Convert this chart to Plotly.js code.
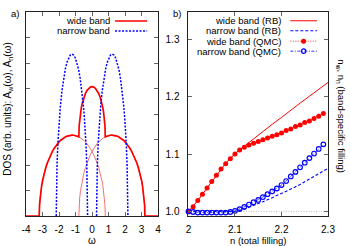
<!DOCTYPE html>
<html>
<head>
<meta charset="utf-8">
<script src="https://cdn.plot.ly/plotly-3.0.1.min.js"></script>
<style>html,body{margin:0;padding:0;background:#fff;}#chart{width:350px;height:246px;}</style>
</head>
<body>
<div id="chart"></div>
<script>
// ---------- Panel a: DOS ----------
const omegaWide = [-4, -3.2, -3.18, -3.15, -3.1, -3.05, -3.0, -2.9, -2.8, -2.7, -2.6, -2.5, -2.4, -2.3, -2.2, -2.1, -2.0, -1.9, -1.8, -1.7, -1.6, -1.5, -1.4, -1.3, -1.2, -1.1, -1.0, -0.9, -0.8, -0.78, -0.75, -0.7, -0.65, -0.6, -0.5, -0.4, -0.3, -0.2, -0.1, 0, 0.1, 0.2, 0.3, 0.4, 0.5, 0.6, 0.65, 0.7, 0.75, 0.78, 0.8, 0.9, 1.0, 1.1, 1.2, 1.3, 1.4, 1.5, 1.6, 1.7, 1.8, 1.9, 2.0, 2.1, 2.2, 2.3, 2.4, 2.5, 2.6, 2.7, 2.8, 2.9, 3.0, 3.05, 3.1, 3.15, 3.18, 3.2, 4];
const dosWide = [0, 0, 0.447, 0.704, 0.990, 1.205, 1.382, 1.670, 1.902, 2.097, 2.264, 2.409, 2.536, 2.647, 2.745, 2.831, 2.905, 2.970, 3.024, 3.069, 3.106, 3.134, 3.154, 3.166, 3.170, 3.166, 3.154, 3.134, 3.106, 3.546, 3.793, 4.059, 4.253, 4.406, 4.640, 4.807, 4.928, 5.009, 5.056, 5.072, 5.056, 5.009, 4.928, 4.807, 4.640, 4.406, 4.253, 4.059, 3.793, 3.546, 3.106, 3.134, 3.154, 3.166, 3.170, 3.166, 3.154, 3.134, 3.106, 3.069, 3.024, 2.970, 2.905, 2.831, 2.745, 2.647, 2.536, 2.409, 2.264, 2.097, 1.902, 1.670, 1.382, 1.205, 0.990, 0.704, 0.447, 0, 0];

const omegaThinL = [-3.2, -3.18, -3.15, -3.1, -3.05, -3.0, -2.9, -2.8, -2.7, -2.6, -2.5, -2.4, -2.3, -2.2, -2.1, -2.0, -1.9, -1.8, -1.7, -1.6, -1.5, -1.4, -1.3, -1.2, -1.1, -1.0, -0.9, -0.8, -0.7, -0.6, -0.5, -0.4, -0.3, -0.2, -0.1, 0, 0.1, 0.2, 0.3, 0.4, 0.5, 0.6, 0.65, 0.7, 0.75, 0.78, 0.8];
const dosThinL = [0, 0.447, 0.704, 0.990, 1.205, 1.382, 1.670, 1.902, 2.097, 2.264, 2.409, 2.536, 2.647, 2.745, 2.831, 2.905, 2.970, 3.024, 3.069, 3.106, 3.134, 3.154, 3.166, 3.170, 3.166, 3.154, 3.134, 3.106, 3.069, 3.024, 2.970, 2.905, 2.831, 2.745, 2.647, 2.536, 2.409, 2.264, 2.097, 1.902, 1.670, 1.382, 1.205, 0.990, 0.704, 0.447, 0];
const omegaThinR = [-0.8, -0.78, -0.75, -0.7, -0.65, -0.6, -0.5, -0.4, -0.3, -0.2, -0.1, 0, 0.1, 0.2, 0.3, 0.4, 0.5, 0.6, 0.7, 0.8, 0.9, 1.0, 1.1, 1.2, 1.3, 1.4, 1.5, 1.6, 1.7, 1.8, 1.9, 2.0, 2.1, 2.2, 2.3, 2.4, 2.5, 2.6, 2.7, 2.8, 2.9, 3.0, 3.05, 3.1, 3.15, 3.18, 3.2];
const dosThinR = [0, 0.447, 0.704, 0.990, 1.205, 1.382, 1.670, 1.902, 2.097, 2.264, 2.409, 2.536, 2.647, 2.745, 2.831, 2.905, 2.970, 3.024, 3.069, 3.106, 3.134, 3.154, 3.166, 3.170, 3.166, 3.154, 3.134, 3.106, 3.069, 3.024, 2.970, 2.905, 2.831, 2.745, 2.647, 2.536, 2.409, 2.264, 2.097, 1.902, 1.670, 1.382, 1.205, 0.990, 0.704, 0.447, 0];

const omegaNarrow = [-2.17, -2.15, -2.12, -2.07, -2.02, -1.97, -1.92, -1.82, -1.72, -1.62, -1.52, -1.42, -1.32, -1.22, -1.12, -1.02, -0.92, -0.82, -0.72, -0.62, -0.52, -0.47, -0.42, -0.37, -0.32, -0.29, -0.27, null, 0.27, 0.29, 0.32, 0.37, 0.42, 0.47, 0.52, 0.62, 0.72, 0.82, 0.92, 1.02, 1.12, 1.22, 1.32, 1.42, 1.52, 1.62, 1.72, 1.82, 1.92, 1.97, 2.02, 2.07, 2.12, 2.15, 2.17];
const dosNarrow = [0, 1.296, 2.033, 2.836, 3.425, 3.898, 4.293, 4.923, 5.399, 5.760, 6.025, 6.208, 6.315, 6.350, 6.315, 6.208, 6.025, 5.760, 5.399, 4.923, 4.293, 3.898, 3.425, 2.836, 2.033, 1.296, 0, null, 0, 1.296, 2.033, 2.836, 3.425, 3.898, 4.293, 4.923, 5.399, 5.760, 6.025, 6.208, 6.315, 6.350, 6.315, 6.208, 6.025, 5.760, 5.399, 4.923, 4.293, 3.898, 3.425, 2.836, 2.033, 1.296, 0];

const omegaTickVals = [-4, -3, -2, -1, 0, 1, 2, 3, 4];
const omegaTickText = ['-4', '-3', '-2', '-1', '0', '1', '2', '3', '4'];
const dosTickVals = [0, 1, 2, 3, 4, 5, 6, 7, 8];

// ---------- Panel b: band-specific filling ----------
const nRB = [2.00, 2.02, 2.04, 2.06, 2.08, 2.10, 2.12, 2.14, 2.16, 2.18, 2.20, 2.22, 2.24, 2.26, 2.28, 2.30];
const wideRB = [1.000, 1.019, 1.041, 1.063, 1.084, 1.101, 1.114, 1.127, 1.139, 1.152, 1.164, 1.177, 1.189, 1.201, 1.213, 1.225];
const narrowRB = [1.000, 1.000, 1.000, 1.000, 1.000, 1.000, 1.004, 1.010, 1.017, 1.024, 1.031, 1.039, 1.047, 1.056, 1.065, 1.075];

const nQMC = [2.00, 2.01, 2.02, 2.03, 2.04, 2.05, 2.06, 2.07, 2.08, 2.09, 2.10, 2.11, 2.12, 2.13, 2.14, 2.15, 2.16, 2.17, 2.18, 2.19, 2.20, 2.21, 2.22, 2.23, 2.24, 2.25, 2.26, 2.27, 2.28, 2.29];
const wideQMC = [1.000, 1.008, 1.019, 1.030, 1.041, 1.052, 1.063, 1.074, 1.083, 1.092, 1.100, 1.107, 1.112, 1.116, 1.119, 1.122, 1.125, 1.128, 1.131, 1.134, 1.137, 1.141, 1.144, 1.148, 1.151, 1.155, 1.158, 1.162, 1.166, 1.171];
const narrowQMC = [1.000, 0.999, 0.998, 0.998, 0.998, 0.998, 0.998, 0.998, 0.998, 0.999, 1.001, 1.004, 1.008, 1.012, 1.016, 1.020, 1.025, 1.030, 1.035, 1.040, 1.046, 1.053, 1.061, 1.069, 1.077, 1.085, 1.093, 1.101, 1.109, 1.117];

const unitLineN = [2.0, 2.3];
const unitLineY = [1.0, 1.0];

const nTickVals = [2.0, 2.1, 2.2, 2.3];
const nTickText = ['2', '2.1', '2.2', '2.3'];
const fillTickVals = [1.0, 1.1, 1.2, 1.3];
const fillTickText = ['1.0', '1.1', '1.2', '1.3'];

const legendA = ['wide band', 'narrow band'];
const legendB = ['wide band (RB)', 'narrow band (RB)', 'wide band (QMC)', 'narrow band (QMC)'];

const RED = '#ff0000', BLUE = '#0000ff';
const FONT = 'Liberation Sans, Arial, sans-serif';

const traces = [
  {x: omegaThinL, y: dosThinL, xaxis: 'x', yaxis: 'y', mode: 'lines', line: {color: '#f27272', width: 1}, hoverinfo: 'skip'},
  {x: omegaThinR, y: dosThinR, xaxis: 'x', yaxis: 'y', mode: 'lines', line: {color: '#f27272', width: 1}, hoverinfo: 'skip'},
  {x: omegaWide, y: dosWide, xaxis: 'x', yaxis: 'y', mode: 'lines', name: legendA[0], line: {color: RED, width: 1.7}},
  {x: omegaNarrow, y: dosNarrow, xaxis: 'x', yaxis: 'y', mode: 'lines', name: legendA[1], connectgaps: false, line: {color: BLUE, width: 1.5, dash: '2px,1.5px'}},

  {x: unitLineN, y: unitLineY, xaxis: 'x2', yaxis: 'y2', mode: 'lines', line: {color: '#bbbbbb', width: 1, dash: '1px,1.5px'}, hoverinfo: 'skip'},
  {x: nRB, y: wideRB, xaxis: 'x2', yaxis: 'y2', mode: 'lines', name: legendB[0], line: {color: RED, width: 1}},
  {x: nRB, y: narrowRB, xaxis: 'x2', yaxis: 'y2', mode: 'lines', name: legendB[1], line: {color: BLUE, width: 1.1, dash: '3px,2px'}},
  {x: nQMC, y: wideQMC, xaxis: 'x2', yaxis: 'y2', mode: 'lines+markers', name: legendB[2], cliponaxis: false,
   line: {color: RED, width: 0.8, dash: '1px,1.5px'}, marker: {symbol: 'circle', size: 5, color: RED}},
  {x: nQMC, y: narrowQMC, xaxis: 'x2', yaxis: 'y2', mode: 'lines+markers', name: legendB[3], cliponaxis: false,
   line: {color: BLUE, width: 0.8, dash: '3px,1.5px,1px,1.5px'}, marker: {symbol: 'circle-open', size: 4.6, color: BLUE, line: {width: 1.2, color: BLUE}}}
];

const axisCommon = {
  showline: true, linecolor: '#222', linewidth: 1, mirror: 'ticks',
  ticks: 'inside', ticklen: 4, tickwidth: 1, tickcolor: '#666',
  showgrid: false, zeroline: false, tickfont: {size: 10, family: FONT, color: '#000'},
  fixedrange: true
};

// legend rows (domain fractions)
const rowA = [0.956, 0.907];
const rowB = [0.957, 0.908, 0.857, 0.808];

const annotations = [
  {text: 'a)', xref: 'paper', yref: 'paper', x: -0.017, y: 0.995, xanchor: 'right', yanchor: 'middle', showarrow: false, font: {size: 9.5}},
  {text: 'b)', xref: 'paper', yref: 'paper', x: 0.521, y: 0.995, xanchor: 'right', yanchor: 'middle', showarrow: false, font: {size: 9.5}},
  {text: 'ω', xref: 'paper', yref: 'paper', x: 0.219, y: -0.119, xanchor: 'center', yanchor: 'middle', showarrow: false, font: {size: 10}},
  {text: 'n (total filling)', xref: 'paper', yref: 'paper', x: 0.769, y: -0.119, xanchor: 'center', yanchor: 'middle', showarrow: false, font: {size: 9.5}},
  {text: 'DOS (arb. units): A<sub>w</sub>(ω), A<sub>n</sub>(ω)', xref: 'paper', yref: 'paper', x: -0.06, y: 0.525, xanchor: 'center', yanchor: 'middle', textangle: -90, showarrow: false, font: {size: 10}},
  {text: 'n<sub>w</sub>, n<sub>n</sub> (band-specific filling)', xref: 'paper', yref: 'paper', x: 1.044, y: 0.487, xanchor: 'center', yanchor: 'middle', textangle: 90, showarrow: false, font: {size: 9.5}}
];
legendA.forEach((t, i) => annotations.push({text: t, xref: 'x domain', yref: 'y domain', x: 0.652, y: rowA[i], xanchor: 'right', yanchor: 'middle', showarrow: false, font: {size: 9.5}}));
legendB.forEach((t, i) => annotations.push({text: t, xref: 'x2 domain', yref: 'y2 domain', x: 0.677, y: rowB[i], xanchor: 'right', yanchor: 'middle', showarrow: false, font: {size: 9.5}}));

const shapes = [
  {type: 'line', xref: 'x domain', yref: 'y domain', x0: 0.674, x1: 0.917, y0: rowA[0], y1: rowA[0], line: {color: RED, width: 1.5}},
  {type: 'line', xref: 'x domain', yref: 'y domain', x0: 0.674, x1: 0.917, y0: rowA[1], y1: rowA[1], line: {color: BLUE, width: 1.5, dash: '2px,1.5px'}},
  {type: 'line', xref: 'x2 domain', yref: 'y2 domain', x0: 0.730, x1: 0.921, y0: rowB[0], y1: rowB[0], line: {color: RED, width: 1}},
  {type: 'line', xref: 'x2 domain', yref: 'y2 domain', x0: 0.730, x1: 0.921, y0: rowB[1], y1: rowB[1], line: {color: BLUE, width: 1.1, dash: '3px,2px'}},
  {type: 'line', xref: 'x2 domain', yref: 'y2 domain', x0: 0.730, x1: 0.921, y0: rowB[2], y1: rowB[2], line: {color: RED, width: 0.8, dash: '1px,1.5px'}},
  {type: 'line', xref: 'x2 domain', yref: 'y2 domain', x0: 0.730, x1: 0.921, y0: rowB[3], y1: rowB[3], line: {color: BLUE, width: 0.8, dash: '3px,1.5px,1px,1.5px'}},
  {type: 'circle', xref: 'x2 domain', yref: 'y2 domain', xsizemode: 'pixel', ysizemode: 'pixel', xanchor: 0.825, yanchor: rowB[2], x0: -2.5, x1: 2.5, y0: -2.5, y1: 2.5, fillcolor: RED, line: {color: RED, width: 0}},
  {type: 'circle', xref: 'x2 domain', yref: 'y2 domain', xsizemode: 'pixel', ysizemode: 'pixel', xanchor: 0.825, yanchor: rowB[3], x0: -2.2, x1: 2.2, y0: -2.2, y1: 2.2, fillcolor: 'rgba(0,0,0,0)', line: {color: BLUE, width: 1.2}}
];

const layout = {
  width: 350, height: 246,
  margin: {l: 26, r: 22.3, t: 12, b: 30.3, pad: 0},
  paper_bgcolor: '#ffffff', plot_bgcolor: '#ffffff',
  font: {family: FONT, size: 10, color: '#000'},
  showlegend: false,
  xaxis: Object.assign({}, axisCommon, {domain: [0, 0.4375], range: [-4, 4], tickmode: 'array', tickvals: omegaTickVals, ticktext: omegaTickText, anchor: 'y', ticklabelstandoff: 4}),
  yaxis: Object.assign({}, axisCommon, {domain: [0, 1], range: [0, 8], tickmode: 'array', tickvals: dosTickVals, showticklabels: false, anchor: 'x'}),
  xaxis2: Object.assign({}, axisCommon, {domain: [0.538, 1], range: [2.0, 2.3], tickmode: 'array', tickvals: nTickVals, ticktext: nTickText, anchor: 'y2', ticklabelstandoff: 4}),
  yaxis2: Object.assign({}, axisCommon, {domain: [0, 1], range: [0.992, 1.348], tickmode: 'array', tickvals: fillTickVals, ticktext: fillTickText, anchor: 'x2', ticklabelstandoff: 6}),
  annotations: annotations,
  shapes: shapes
};

Plotly.newPlot('chart', traces, layout, {displayModeBar: false, staticPlot: true});
</script>
</body>
</html>
